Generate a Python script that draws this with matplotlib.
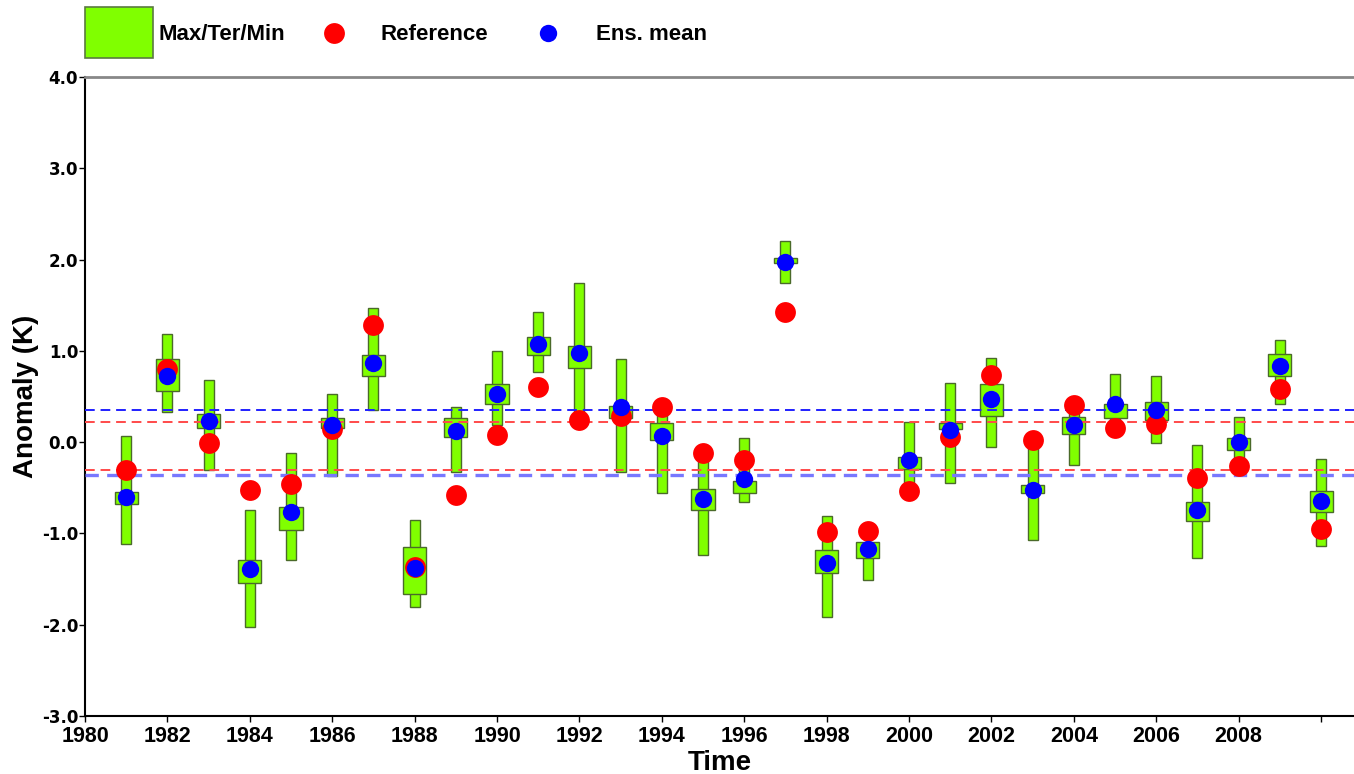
import numpy as np
import matplotlib
matplotlib.use("Agg")
import matplotlib.pyplot as plt
from matplotlib.patches import Rectangle
from matplotlib.lines import Line2D

plt.rcParams['font.family'] = ['Liberation Sans', 'DejaVu Sans']

years = np.arange(1981, 2011)

# whisker ends (max / min)
w_hi = [0.07, 1.19, 0.68, -0.74, -0.12, 0.53, 1.47, -0.85, 0.38, 1.00,
        1.43, 1.74, 0.91, 0.35, -0.20, 0.05, 2.20, -0.81, -1.10, 0.22,
        0.65, 0.92, -0.05, 0.45, 0.75, 0.73, -0.03, 0.28, 1.12, -0.18]
w_lo = [-1.12, 0.33, -0.31, -2.03, -1.29, -0.37, 0.35, -1.81, -0.33, 0.19,
        0.77, 0.27, -0.33, -0.56, -1.24, -0.65, 1.74, -1.91, -1.51, -0.45,
        -0.45, -0.05, -1.07, -0.25, 0.15, -0.01, -1.27, -0.22, 0.42, -1.14]
# box ends (upper / lower tercile)
b_hi = [-0.55, 0.91, 0.31, -1.29, -0.71, 0.27, 0.96, -1.15, 0.26, 0.64,
        1.15, 1.05, 0.40, 0.21, -0.51, -0.42, 2.02, -1.18, -1.09, -0.16,
        0.21, 0.64, -0.47, 0.28, 0.42, 0.44, -0.66, 0.05, 0.97, -0.54]
b_lo = [-0.68, 0.56, 0.15, -1.54, -0.96, 0.15, 0.72, -1.66, 0.06, 0.42,
        0.95, 0.81, 0.26, 0.02, -0.74, -0.56, 1.96, -1.43, -1.27, -0.29,
        0.14, 0.29, -0.56, 0.09, 0.26, 0.24, -0.86, -0.09, 0.73, -0.77]
reference = [-0.30, 0.80, -0.01, -0.52, -0.46, 0.14, 1.28, -1.37, -0.58, 0.08,
             0.60, 0.24, 0.29, 0.38, -0.12, -0.19, 1.43, -0.98, -0.97, -0.53,
             0.06, 0.74, 0.02, 0.41, 0.16, 0.20, -0.39, -0.26, 0.58, -0.95]
ens_mean = [-0.60, 0.73, 0.23, -1.39, -0.76, 0.19, 0.87, -1.38, 0.12, 0.53,
            1.07, 0.98, 0.39, 0.07, -0.62, -0.40, 1.97, -1.32, -1.17, -0.20,
            0.13, 0.47, -0.52, 0.19, 0.42, 0.35, -0.74, 0.00, 0.83, -0.64]

# terciles of reference and ensemble mean (dashed lines)
ref_terciles = [0.22, -0.31]
ens_terciles = [0.35, -0.36]

green = '#80ff00'
edge = '#4a6a2a'

fig = plt.figure(figsize=(13.54, 7.74), dpi=100)
ax = fig.add_axes([0.0628, 0.0749, 0.9372, 0.8256])

w_hi, w_lo, b_hi, b_lo = map(np.array, (w_hi, w_lo, b_hi, b_lo))
ax.bar(years, w_hi - w_lo, bottom=w_lo, width=0.24, color=green,
       edgecolor=edge, linewidth=1, zorder=2)
ax.bar(years, b_hi - b_lo, bottom=b_lo, width=0.56, color=green,
       edgecolor=edge, linewidth=1, zorder=3)

ax.axhline(ens_terciles[0], color='#2020ff', lw=1.4, ls=(0, (5, 3)), zorder=4)
ax.axhline(ens_terciles[1], color='#7878ff', lw=2.4, ls=(0, (4, 2.5)), zorder=4)
for t in ref_terciles:
    ax.axhline(t, color='#ff4a4a', lw=1.4, ls=(0, (5, 3)), zorder=4)

ax.plot(years, reference, 'o', color='#ff0000', ms=15, mec='none', zorder=5)
ax.plot(years, ens_mean, 'o', color='#0000ff', ms=12.5, mec='none', zorder=6)

ax.set_xlim(1980, 2010.8)
ax.set_ylim(-3, 4)
xt = np.arange(1980, 2011, 2)
ax.set_xticks(xt)
ax.set_xticklabels([str(x) if x < 2010 else '' for x in xt],
                   fontsize=15.5, fontweight='bold')
yt = np.arange(-3, 5)
ax.set_yticks(yt)
ax.set_yticklabels(['%.1f' % v for v in yt], fontsize=12, fontweight='bold',
                   family='DejaVu Sans')
ax.tick_params(axis='both', direction='out', length=4, width=1, pad=1)
ax.tick_params(axis='x', pad=3)

ax.set_xlabel('Time', fontsize=20, fontweight='bold', labelpad=2)
ax.set_ylabel('Anomaly (K)', fontsize=20, fontweight='bold', labelpad=2)

ax.spines['right'].set_visible(False)
ax.spines['top'].set_color('#888888')
ax.spines['top'].set_linewidth(2)
ax.spines['left'].set_linewidth(1.5)
ax.spines['bottom'].set_linewidth(1.5)

# legend drawn above the axes
fig.add_artist(Rectangle((85 / 1354, 1 - 58 / 774), 68 / 1354, 51 / 774,
                         transform=fig.transFigure, facecolor=green,
                         edgecolor='#5a7a40', linewidth=1.2))
fig.text(158 / 1354, 1 - 34 / 774, 'Max/Ter/Min', fontsize=16, fontweight='bold', va='center')
fig.add_artist(Line2D([334 / 1354], [1 - 33 / 774], marker='o', color='#ff0000',
                      ms=15, mec='none', transform=fig.transFigure))
fig.text(381 / 1354, 1 - 34 / 774, 'Reference', fontsize=16, fontweight='bold', va='center')
fig.add_artist(Line2D([548 / 1354], [1 - 33 / 774], marker='o', color='#0000ff',
                      ms=12.5, mec='none', transform=fig.transFigure))
fig.text(596 / 1354, 1 - 34 / 774, 'Ens. mean', fontsize=16, fontweight='bold', va='center')

fig.savefig('out.png', dpi=100)
